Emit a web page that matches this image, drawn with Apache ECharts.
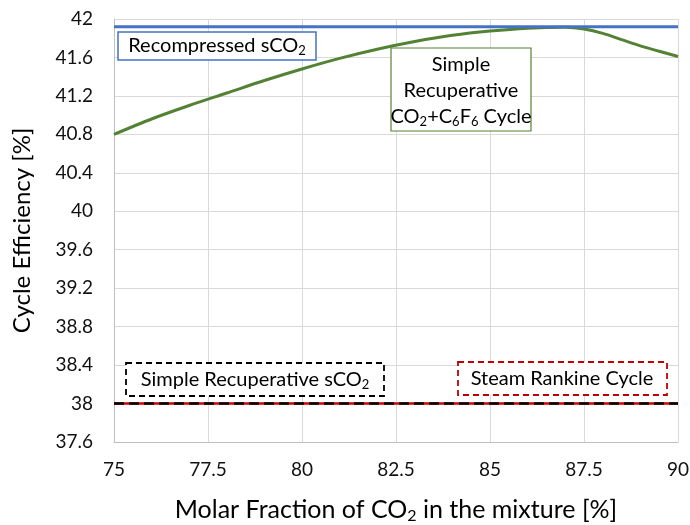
<!DOCTYPE html>
<html>
<head>
<meta charset="utf-8">
<script src="https://cdn.jsdelivr.net/npm/echarts@6/dist/echarts.min.js"></script>
<style>
html, body { margin: 0; padding: 0; background: #fff; }
#main { width: 690px; height: 525px; }
</style>
</head>
<body>
<div id="main"></div>
<script>
var FONT = 'Lato, "Open Sans", sans-serif';

// molar fraction of CO2 [%] and efficiency of the CO2+C6F6 cycle [%]
var xFrac = [75, 76, 77, 78, 79, 80, 81, 82, 83, 84, 85, 86, 87, 87.5, 88, 88.5, 89, 89.5, 90];
var mixEff = [40.80, 40.96, 41.10, 41.23, 41.36, 41.48, 41.59, 41.685, 41.765, 41.83, 41.875, 41.905, 41.915, 41.895, 41.85, 41.785, 41.72, 41.665, 41.61];

// constant reference cycles
var xEnds = [75, 90];
var recompEff = 41.92;
var simpleEff = 38.0;
var rankineEff = 38.0;

var yMin = 37.6, yMax = 42, yStep = 0.4;
var xMin = 75, xMax = 90, xStep = 2.5;

function pairs(xs, ys) {
	var out = [];
	for (var i = 0; i < xs.length; i++) out.push([xs[i], ys[i]]);
	return out;
}
function flat(v) {
	return xEnds.map(function (x) { return [x, v]; });
}

var myChart = echarts.init(document.getElementById('main'));

var sub = { fontSize: 13, fontFamily: FONT, color: '#000', padding: [10, 0, 0, 0] };

var option = {
	animation: false,
	backgroundColor: '#fff',
	textStyle: { fontFamily: FONT },
	grid: { left: 114, right: 12, top: 19, bottom: 83, outerBoundsMode: 'none' },
	xAxis: {
		type: 'value',
		min: xMin, max: xMax, interval: xStep,
		axisLine: { show: true, lineStyle: { color: '#bfbfbf', width: 1 } },
		axisTick: { show: false },
		splitLine: { show: true, lineStyle: { color: '#d9d9d9' } },
		axisLabel: { fontSize: 19, color: '#111', fontFamily: FONT, margin: 18 },
		name: 'Molar Fraction of CO{s|2} in the mixture [%]',
		nameLocation: 'middle',
		nameGap: 53,
		nameTextStyle: {
			fontSize: 25, color: '#000', fontFamily: FONT,
			rich: { s: { fontSize: 16, fontFamily: FONT, color: '#000', padding: [13, 0, 0, 0] } }
		}
	},
	yAxis: {
		type: 'value',
		min: yMin, max: yMax, interval: yStep,
		axisLine: { show: true, lineStyle: { color: '#bfbfbf', width: 1 } },
		axisTick: { show: false },
		splitLine: { show: true, lineStyle: { color: '#d9d9d9' } },
		axisLabel: {
			fontSize: 19, color: '#111', fontFamily: FONT, margin: 21,
			formatter: function (v) { return String(+v.toFixed(1)); }
		},
		name: 'Cycle Efficiency [%]',
		nameLocation: 'middle',
		nameGap: 80,
		nameTextStyle: { fontSize: 24, color: '#000', fontFamily: FONT }
	},
	series: [
		{
			name: 'Simple Recuperative CO2+C6F6 Cycle',
			type: 'line',
			data: pairs(xFrac, mixEff),
			smooth: 0.3,
			showSymbol: false,
			lineStyle: { color: '#548235', width: 3 }
		},
		{
			name: 'Recompressed sCO2',
			type: 'line',
			data: flat(recompEff),
			showSymbol: false,
			lineStyle: { color: '#4472c4', width: 3 }
		},
		{
			name: 'Steam Rankine Cycle',
			type: 'line',
			data: flat(rankineEff),
			showSymbol: false,
			z: 2,
			lineStyle: { color: '#d00000', width: 2.5 }
		},
		{
			name: 'Simple Recuperative sCO2',
			type: 'line',
			data: flat(simpleEff),
			showSymbol: false,
			z: 3,
			lineStyle: { color: '#000', width: 2.5, type: [10, 5] }
		}
	],
	graphic: [
		{
			type: 'rect', shape: { x: 118, y: 32, width: 198, height: 28 },
			style: { fill: '#fff', stroke: '#4472c4', lineWidth: 1.5 }, z: 100
		},
		{
			type: 'text', x: 217, y: 46, z: 101,
			style: {
				text: 'Recompressed sCO{s|2}', fontSize: 20, fontFamily: FONT, fill: '#000',
				align: 'center', verticalAlign: 'middle', rich: { s: sub }
			}
		},
		{
			type: 'rect', shape: { x: 391, y: 48, width: 140, height: 83 },
			style: { fill: '#fff', stroke: '#548235', lineWidth: 1.2 }, z: 100
		},
		{
			type: 'text', x: 461, y: 91, z: 101,
			style: {
				text: 'Simple\nRecuperative\nCO{s|2}+C{s|6}F{s|6} Cycle', fontSize: 20, fontFamily: FONT, fill: '#000',
				lineHeight: 26, align: 'center', verticalAlign: 'middle', rich: { s: sub }
			}
		},
		{
			type: 'rect', shape: { x: 126, y: 363, width: 258, height: 33 },
			style: { fill: '#fff', stroke: '#000', lineWidth: 1.8, lineDash: [6, 4] }, z: 100
		},
		{
			type: 'text', x: 255, y: 380, z: 101,
			style: {
				text: 'Simple Recuperative sCO{s|2}', fontSize: 20, fontFamily: FONT, fill: '#000',
				align: 'center', verticalAlign: 'middle', rich: { s: sub }
			}
		},
		{
			type: 'rect', shape: { x: 458, y: 362, width: 209, height: 33 },
			style: { fill: '#fff', stroke: '#c00000', lineWidth: 1.8, lineDash: [6, 4] }, z: 100
		},
		{
			type: 'text', x: 562, y: 379, z: 101,
			style: {
				text: 'Steam Rankine Cycle', fontSize: 20, fontFamily: FONT, fill: '#000',
				align: 'center', verticalAlign: 'middle'
			}
		}
	]
};
myChart.setOption(option);
</script>
</body>
</html>
